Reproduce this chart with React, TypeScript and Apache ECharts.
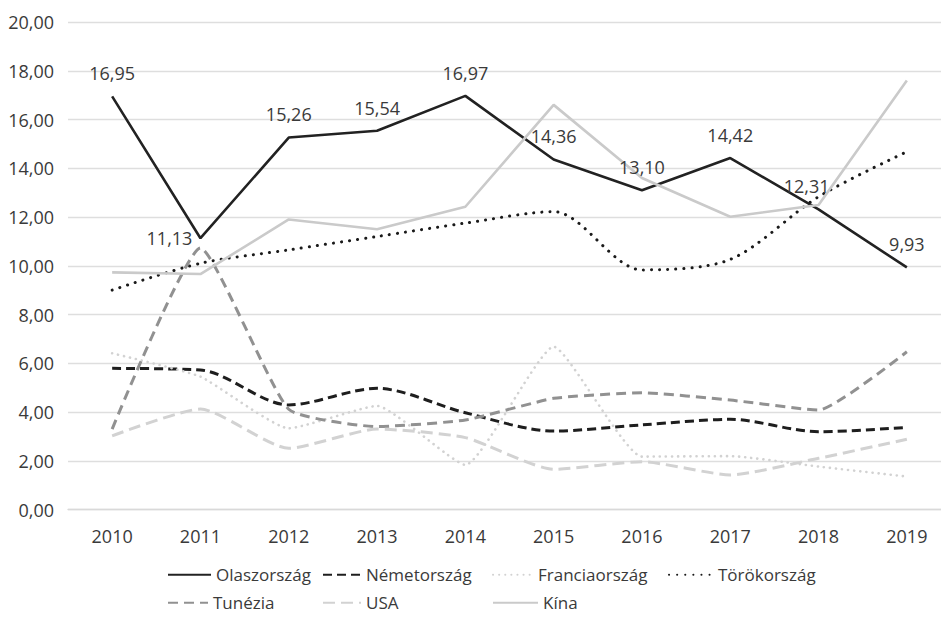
import React, { useEffect, useRef } from "react";
import * as echarts from "echarts";

const years = ["2010", "2011", "2012", "2013", "2014", "2015", "2016", "2017", "2018", "2019"];
const olaszorszag = [16.95, 11.13, 15.26, 15.54, 16.97, 14.36, 13.1, 14.42, 12.31, 9.93];
const nemetorszag = [5.79, 5.72, 4.29, 4.97, 3.97, 3.22, 3.47, 3.7, 3.19, 3.37];
const franciaorszag = [6.41, 5.45, 3.33, 4.25, 1.83, 6.68, 2.17, 2.19, 1.76, 1.35];
const torokorszag = [9.0, 10.1, 10.65, 11.2, 11.75, 12.22, 9.83, 10.26, 12.83, 14.68];
const tunezia = [3.3, 10.73, 4.11, 3.4, 3.67, 4.56, 4.79, 4.49, 4.08, 6.47];
const usa = [3.02, 4.12, 2.51, 3.3, 2.95, 1.65, 1.96, 1.42, 2.1, 2.88];
const kina = [9.73, 9.66, 11.9, 11.5, 12.42, 16.6, 13.6, 12.01, 12.49, 17.6];

const FONT = "'Open Sans', 'Noto Sans', sans-serif";
const TXT = "#3a3a3a";
const fmt = (v: number) => v.toFixed(2).replace(".", ",");

export default function App() {
  const ref = useRef<HTMLDivElement>(null);
  useEffect(() => {
    if (!ref.current) return;
    const chart = echarts.init(ref.current, null, { renderer: "svg" });

    const seriesDefs = [
      { name: "Olaszország", data: olaszorszag, color: "#222222", type: "solid" as any, width: 2.6, smooth: false as any, cap: "butt" },
      { name: "Németország", data: nemetorszag, color: "#1e1e1e", type: [9, 5], width: 3, smooth: 0.3, cap: "butt" },
      { name: "Franciaország", data: franciaorszag, color: "#d2d2d2", type: [0.1, 6], width: 2.6, smooth: 0.15, cap: "round" },
      { name: "Törökország", data: torokorszag, color: "#1a1a1a", type: [0.1, 8], width: 3, smooth: 0.3, cap: "round" },
      { name: "Tunézia", data: tunezia, color: "#919191", type: [10, 6], width: 3, smooth: 0.15, cap: "butt" },
      { name: "USA", data: usa, color: "#d2d2d2", type: [12, 6], width: 3, smooth: 0.2, cap: "butt" },
      { name: "Kína", data: kina, color: "#cacaca", type: "solid" as any, width: 2.6, smooth: false as any, cap: "butt" },
    ];

    const series = seriesDefs.map((d) => {
      const isLabeled = d.name === "Olaszország";
      return {
        name: d.name,
        type: "line",
        smooth: d.smooth,
        symbol: "circle",
        symbolSize: 0.1,
        showSymbol: isLabeled,
        color: d.color,
        lineStyle: { color: d.color, width: d.width, type: d.type, cap: d.cap },
        itemStyle: { color: "rgba(0,0,0,0)", borderWidth: 0 },
        emphasis: { disabled: true },
        data: isLabeled
          ? d.data.map((v, i) => {
              if (i === 1) return { value: v, label: { position: "left", distance: 8 } };
              if (i === 8) return { value: v, label: { offset: [-12, 0] } };
              return v;
            })
          : d.data,
        label: isLabeled
          ? {
              show: true,
              position: "top",
              distance: 14,
              formatter: (p: any) => fmt(p.value),
              fontFamily: FONT,
              fontSize: 18,
              color: TXT,
            }
          : { show: false },
        z: 2,
      };
    });

    const legendPos: Record<string, [number, number]> = {
      "Olaszország": [167, 566],
      "Németország": [322, 566],
      "Franciaország": [492, 566],
      "Törökország": [668, 566],
      "Tunézia": [167, 594],
      "USA": [322, 594],
      "Kína": [492, 594],
    };
    const legendWidth: Record<string, number> = {
      "Olaszország": 43,
      "Németország": 38,
      "Franciaország": 40,
      "Törökország": 44,
      "Tunézia": 40,
      "USA": 38,
      "Kína": 45,
    };

    const legends = seriesDefs.map((d) => ({
      show: true,
      data: [d.name],
      left: legendPos[d.name][0],
      top: legendPos[d.name][1],
      padding: 0,
      itemWidth: legendWidth[d.name],
      itemHeight: 22,
      itemGap: 0,
      itemStyle: { color: "rgba(0,0,0,0)", borderWidth: 0, opacity: 0 },
      textStyle: { fontFamily: FONT, fontSize: 17, color: TXT, padding: [0, 0, 0, 0] },
      selectedMode: false,
    }));

    chart.setOption({
      animation: false,
      backgroundColor: "#ffffff",
      grid: { left: 68, right: -10, top: 22, bottom: 110.5, outerBoundsMode: "none", containLabel: false },
      legend: legends,
      xAxis: {
        type: "category",
        data: years,
        boundaryGap: true,
        axisLine: { show: true, lineStyle: { color: "#d9d9d9", width: 1.3 } },
        axisTick: { show: false },
        axisLabel: { fontFamily: FONT, fontSize: 18, color: TXT, margin: 17 },
        splitLine: { show: false },
      },
      yAxis: {
        type: "value",
        min: 0,
        max: 20,
        interval: 2,
        axisLine: { show: false },
        axisTick: { show: false },
        axisLabel: { fontFamily: FONT, fontSize: 18, color: TXT, margin: 14, formatter: (v: number) => fmt(v) },
        splitLine: { show: true, lineStyle: { color: "#dedede", width: 1.3 } },
      },
      series,
    });
    return () => chart.dispose();
  }, []);
  return (
    <div
      ref={ref}
      style={{ position: "fixed", left: 0, top: 0, width: 941, height: 620, background: "#fff" }}
    />
  );
}
